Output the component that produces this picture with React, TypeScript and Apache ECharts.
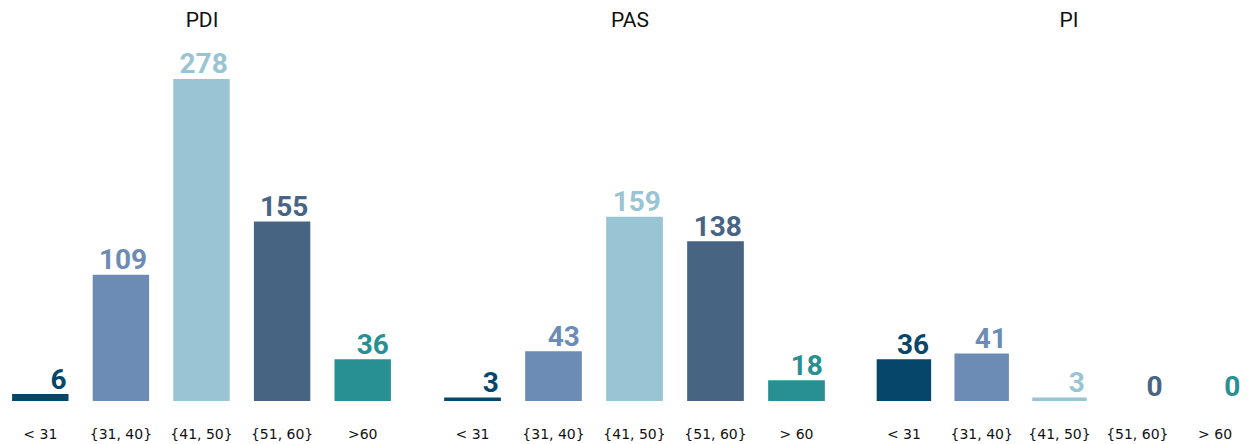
import React, { useEffect, useRef } from "react";
import * as echarts from "echarts";

const panelTitles = ["PDI", "PAS", "PI"];
const categoriesPDI = ["< 31", "{31, 40}", "{41, 50}", "{51, 60}", ">60"];
const categoriesPAS = ["< 31", "{31, 40}", "{41, 50}", "{51, 60}", "> 60"];
const categoriesPI = ["< 31", "{31, 40}", "{41, 50}", "{51, 60}", "> 60"];
const valuesPDI = [6, 109, 278, 155, 36];
const valuesPAS = [3, 43, 159, 138, 18];
const valuesPI = [36, 41, 3, 0, 0];
const barColors = ["#06466a", "#6d8cb5", "#99c4d3", "#486483", "#289092"];

const GRID_LEFTS = [-2, 432, 865];
const GRID_WIDTH = 405;
const GRID_TOP = 53.5;
const GRID_HEIGHT = 347.5;
const Y_MAX = 300;
const TITLE_X = [202, 630, 1069];

export default function App() {
  const ref = useRef<HTMLDivElement>(null);
  useEffect(() => {
    if (!ref.current) return;
    const chart = echarts.init(ref.current, null, { renderer: "svg" });
    const cats = [categoriesPDI, categoriesPAS, categoriesPI];
    const vals = [valuesPDI, valuesPAS, valuesPI];
    chart.setOption({
      animation: false,
      backgroundColor: "#ffffff",
      grid: GRID_LEFTS.map((l) => ({
        left: l,
        width: GRID_WIDTH,
        top: GRID_TOP,
        height: GRID_HEIGHT,
        containLabel: false,
      })),
      xAxis: cats.map((c, i) => ({
        type: "category",
        gridIndex: i,
        data: c,
        axisLine: { show: false },
        axisTick: { show: false },
        splitLine: { show: false },
        axisLabel: {
          interval: 0,
          margin: 26,
          fontFamily: "DejaVu Sans",
          fontSize: 14,
          color: "#111111",
        },
      })),
      yAxis: cats.map((_, i) => ({
        type: "value",
        gridIndex: i,
        min: 0,
        max: Y_MAX,
        show: false,
        splitLine: { show: false },
      })),
      graphic: panelTitles.map((t, i) => ({
        type: "text",
        x: TITLE_X[i],
        y: 20,
        style: {
          text: t,
          align: "center",
          verticalAlign: "middle",
          fontFamily: "Roboto",
          fontSize: 21,
          fill: "#111111",
        },
      })),
      series: vals.map((v, i) => ({
        type: "bar",
        xAxisIndex: i,
        yAxisIndex: i,
        barCategoryGap: "30%",
        data: v.map((val, j) => ({
          value: val,
          itemStyle: { color: barColors[j] },
          label: { color: barColors[j] },
        })),
        label: {
          show: true,
          position: ["100%", 0],
          align: "right",
          verticalAlign: "bottom",
          offset: [-2, -1],
          fontFamily: "Roboto",
          fontWeight: "bold",
          fontSize: 28,
        },
      })),
    });
    return () => chart.dispose();
  }, []);
  return (
    <div
      ref={ref}
      style={{ position: "absolute", left: 0, top: 0, width: 1254, height: 444 }}
    />
  );
}
